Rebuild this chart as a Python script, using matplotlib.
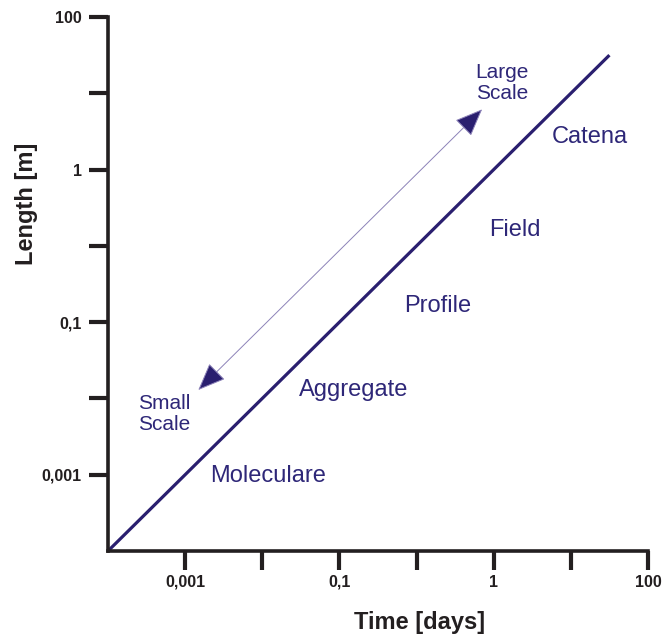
import matplotlib.pyplot as plt
import numpy as np

plt.rcParams['font.family'] = ['Liberation Sans', 'DejaVu Sans']

# axis ticks (equally spaced positions, labels as printed)
tick_pos = [1, 2, 3, 4, 5, 6, 7]
x_tick_labels = ['0,001', '', '0,1', '', '1', '', '100']
y_tick_labels = ['0,001', '', '0,1', '', '1', '', '100']

# diagonal scale line
line_x = [0.0, 6.5]
line_y = [0.0, 6.5]

# double arrow small <-> large scale
arrow_small = (1.17, 2.11)
arrow_large = (4.85, 5.79)

# region names along the line
regions = ['Moleculare', 'Aggregate', 'Profile', 'Field', 'Catena']
region_x = [2.08, 3.19, 4.27, 5.27, 6.25]
region_y = [0.98, 2.11, 3.21, 4.21, 5.43]

dark = '#231f20'
navy = '#2a1f6f'
txt = '#2e2778'

fig = plt.figure(figsize=(6.62, 6.36), dpi=100)
ax = fig.add_axes([108/662, 1-551/636, 540/662, 534/636])

ax.plot(line_x, line_y, color=navy, lw=2.3, solid_capstyle='butt', clip_on=False)

ax.annotate('', xy=arrow_large, xytext=arrow_small,
            arrowprops=dict(arrowstyle='<|-|>,head_length=1.1,head_width=0.45',
                            fc=navy, ec='#8c82b8', lw=0.7, shrinkA=0, shrinkB=0,
                            mutation_scale=16))

for name, x, y in zip(regions, region_x, region_y):
    ax.text(x, y, name, color=txt, fontsize=17, ha='center', va='center')

ax.text(0.73, 1.80, 'Small\nScale', color=txt, fontsize=15, ha='center',
        va='center', linespacing=1.15)
ax.text(5.11, 6.13, 'Large\nScale', color=txt, fontsize=15, ha='center',
        va='center', linespacing=1.15)

ax.set_xlim(0, 7)
ax.set_ylim(0, 7)
ax.set_xticks(tick_pos)
ax.set_xticklabels(x_tick_labels)
ax.set_yticks(tick_pos)
ax.set_yticklabels(y_tick_labels)

for s in ['top', 'right']:
    ax.spines[s].set_visible(False)
for s in ['left', 'bottom']:
    ax.spines[s].set_linewidth(2.6)
    ax.spines[s].set_color(dark)
    ax.spines[s].set_capstyle('projecting')

ax.tick_params(direction='out', length=14, width=3, color=dark,
               labelsize=11.5, labelcolor=dark, pad=5)
ax.tick_params(axis='x', pad=3)
for lab in ax.get_xticklabels() + ax.get_yticklabels():
    lab.set_fontweight('bold')

ax.set_xlabel('Time [days]', fontsize=17, fontweight='bold', color=dark)
ax.xaxis.set_label_coords((420-108)/540, -(612-551)/540)
ax.set_ylabel('Length [m]', fontsize=17, fontweight='bold', color=dark)
ax.yaxis.set_label_coords(-(108-38)/540, (551-204)/534)

fig.savefig('out.png', dpi=100)
